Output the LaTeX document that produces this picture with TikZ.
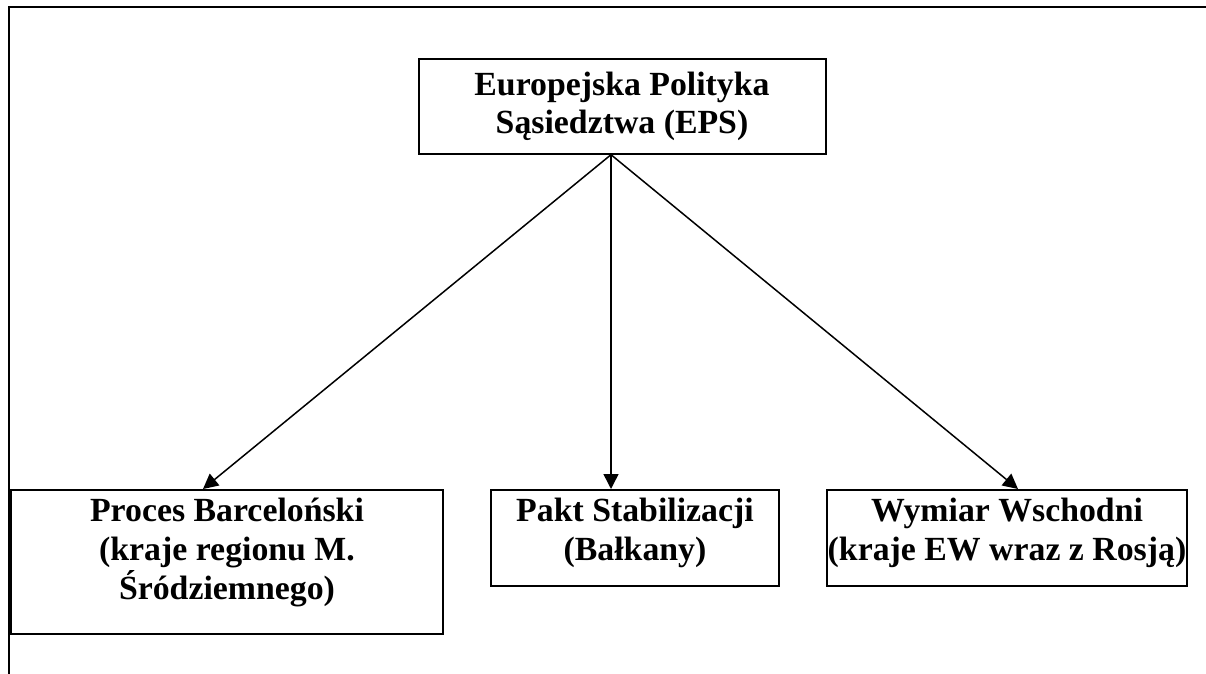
\documentclass[tikz,border=0pt]{standalone}
\usepackage{fontspec}
\setmainfont{Liberation Serif}
\usetikzlibrary{arrows.meta,
    positioning}

\begin{document}
\begin{tikzpicture}[x=0.5pt,y=-0.5pt,
    okno/.style={draw, line width=1pt, rectangle, inner sep=0pt, anchor=north west},
    napis/.style={align=center, inner sep=0pt, anchor=north,
        font=\bfseries\fontsize{16.9}{19.3}\selectfont},
    strzalka/.style={line width=0.75pt, -{Triangle[length=7.5pt,width=7.5pt]}}]
                  \useasboundingbox (0,0) rectangle (1206,674);
                  % ramka strony
                  \draw[line width=1.3pt] (8,7) -- (1206,7);
                  \draw[line width=1.3pt] (9,7) -- (9,674);
                  % okna
                  \node[okno, minimum width=203.5pt, minimum height=47.5pt,
                      align=center, font=\bfseries\fontsize{16.9}{19.3}\selectfont]
                      (eps) at (417.5,57.7) {Europejska Polityka\\Sąsiedztwa (EPS)};
                  \node[okno, minimum width=216pt, minimum height=72pt] (barc) at (10,489) {};
                  \node[okno, minimum width=144pt, minimum height=48pt] (pakt) at (490,489) {};
                  \node[okno, minimum width=180pt, minimum height=48pt] (wymiar) at (826,489) {};
                  \node[napis, below=4.5pt of barc.north] (barc tekst) {Proces Barceloński\\(kraje regionu M.\\Śródziemnego)};
                  \node[napis, below=4.5pt of pakt.north] (pakt tekst) {Pakt Stabilizacji\\(Bałkany)};
                  \node[napis, below=4.5pt of wymiar.north] (wymiar tekst) {Wymiar Wschodni\\(kraje EW wraz z Rosją)};
                  % strzalki
                  \draw[strzalka] ([xshift=-5.5pt]eps.south) -- ([xshift=-12pt]barc.north);
                  \draw[strzalka] ([xshift=-5.5pt]eps.south) -- ([xshift=-12pt]pakt.north);
                  \draw[strzalka] ([xshift=-5.5pt]eps.south) -- ([xshift=5.5pt]wymiar.north);
              \end{tikzpicture}
\end{document}
